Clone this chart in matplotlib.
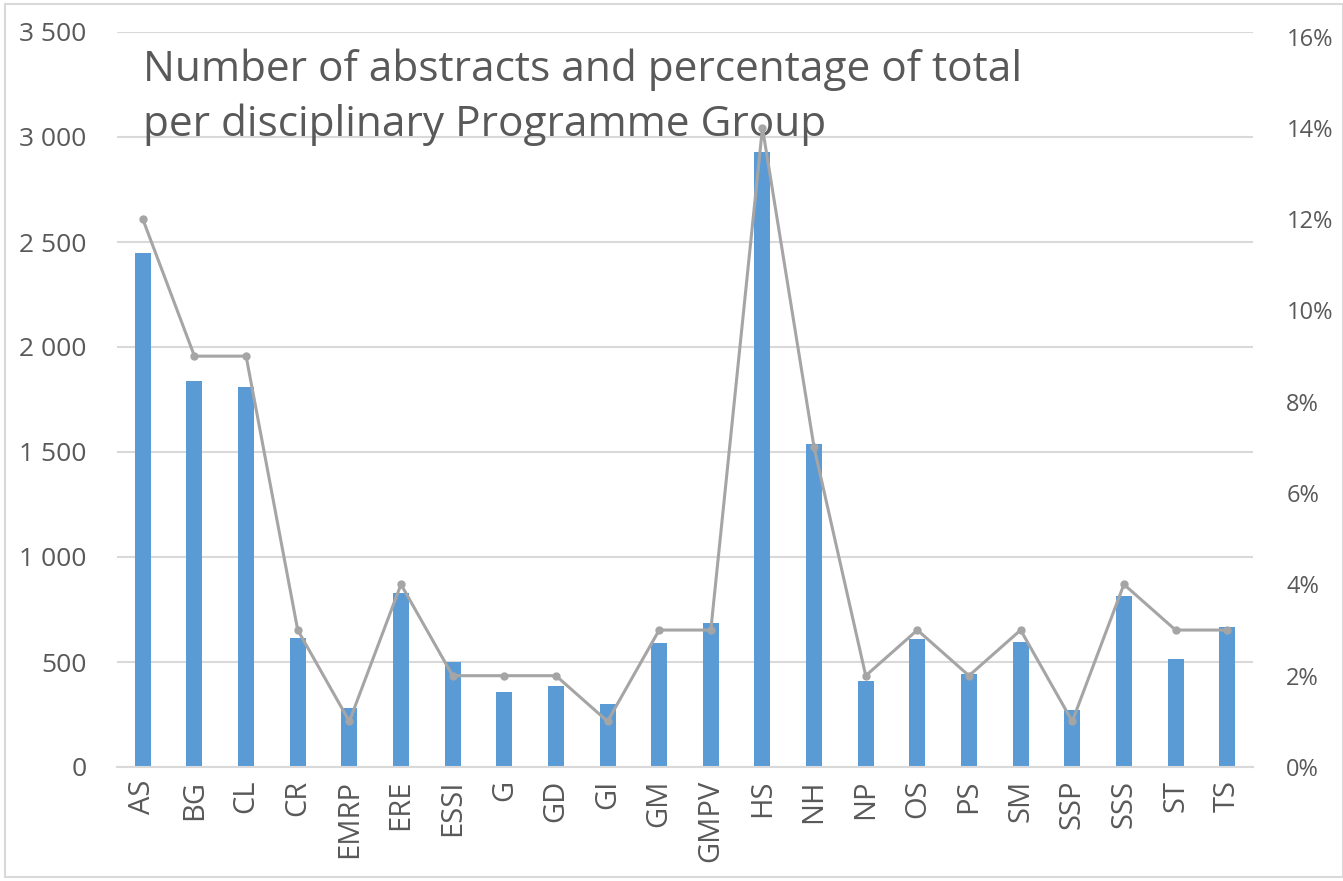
"""
Abstracts per disciplinary Programme Group: bar counts with percentage line.
"""
import matplotlib.pyplot as plt
from matplotlib.patches import Rectangle
from matplotlib.ticker import FuncFormatter

groups = ['AS', 'BG', 'CL', 'CR', 'EMRP', 'ERE', 'ESSI', 'G', 'GD', 'GI', 'GM',
          'GMPV', 'HS', 'NH', 'NP', 'OS', 'PS', 'SM', 'SSP', 'SSS', 'ST', 'TS']
abstracts = [2450, 1840, 1810, 615, 280, 830, 500, 355, 385, 300, 590,
             685, 2930, 1540, 410, 610, 445, 595, 270, 815, 515, 665]
percent = [12, 9, 9, 3, 1, 4, 2, 2, 2, 1, 3,
           3, 14, 7, 2, 3, 2, 3, 1, 4, 3, 3]

plt.rcParams['font.family'] = ['Open Sans', 'DejaVu Sans']
text_col = '#595959'

fig = plt.figure(figsize=(13.43, 8.81), dpi=100)
ax = fig.add_axes([117 / 1343, 1 - 767 / 881, (1253 - 117) / 1343, (767 - 32) / 881])
ax2 = ax.twinx()

x = range(len(groups))
ax.bar(x, abstracts, width=0.31, color='#5B9BD5', zorder=2)
ax2.plot(x, [p / 100 for p in percent], color='#A5A5A5', linewidth=2.2,
         marker='o', markersize=5, markerfacecolor='#A5A5A5', zorder=3)

ax.set_xlim(-0.5, len(groups) - 0.5)
ax.set_ylim(0, 3500)
ax.set_yticks(range(0, 3501, 500))
ax.yaxis.set_major_formatter(FuncFormatter(lambda v, _: f'{int(v):,}'.replace(',', ' ')))
ax.grid(axis='y', color='#D9D9D9', linewidth=1.5, zorder=0)
ax.set_axisbelow(True)

ax2.set_ylim(0, 0.161)
ax2.set_yticks([i / 100 for i in range(0, 17, 2)])
ax2.yaxis.set_major_formatter(FuncFormatter(lambda v, _: f'{v * 100:.0f}%'))

ax.set_xticks(list(x))
ax.set_xticklabels(groups, rotation=90)
for a in (ax, ax2):
    for s in a.spines.values():
        s.set_visible(False)
    a.tick_params(length=0, colors=text_col, labelsize=19)
ax.spines['bottom'].set_visible(True)
ax.spines['bottom'].set_color('#D9D9D9')
ax.spines['bottom'].set_linewidth(1.5)
ax.tick_params(axis='x', labelsize=21, pad=9)
ax.tick_params(axis='y', pad=22)
ax2.tick_params(axis='y', labelsize=17, pad=24)

ax.text(0.023, 0.978, 'Number of abstracts and percentage of total\nper disciplinary Programme Group',
        transform=ax.transAxes, ha='left', va='top', fontsize=30.5, color=text_col,
        linespacing=1.38, zorder=5)

# light chart border
fig.patches.append(Rectangle((5 / 1343, 4 / 881), 1 - 5 / 1343, 1 - 8 / 881,
                             transform=fig.transFigure, fill=False,
                             edgecolor='#D9D9D9', linewidth=1.5))

fig.savefig('out.png', dpi=100)
